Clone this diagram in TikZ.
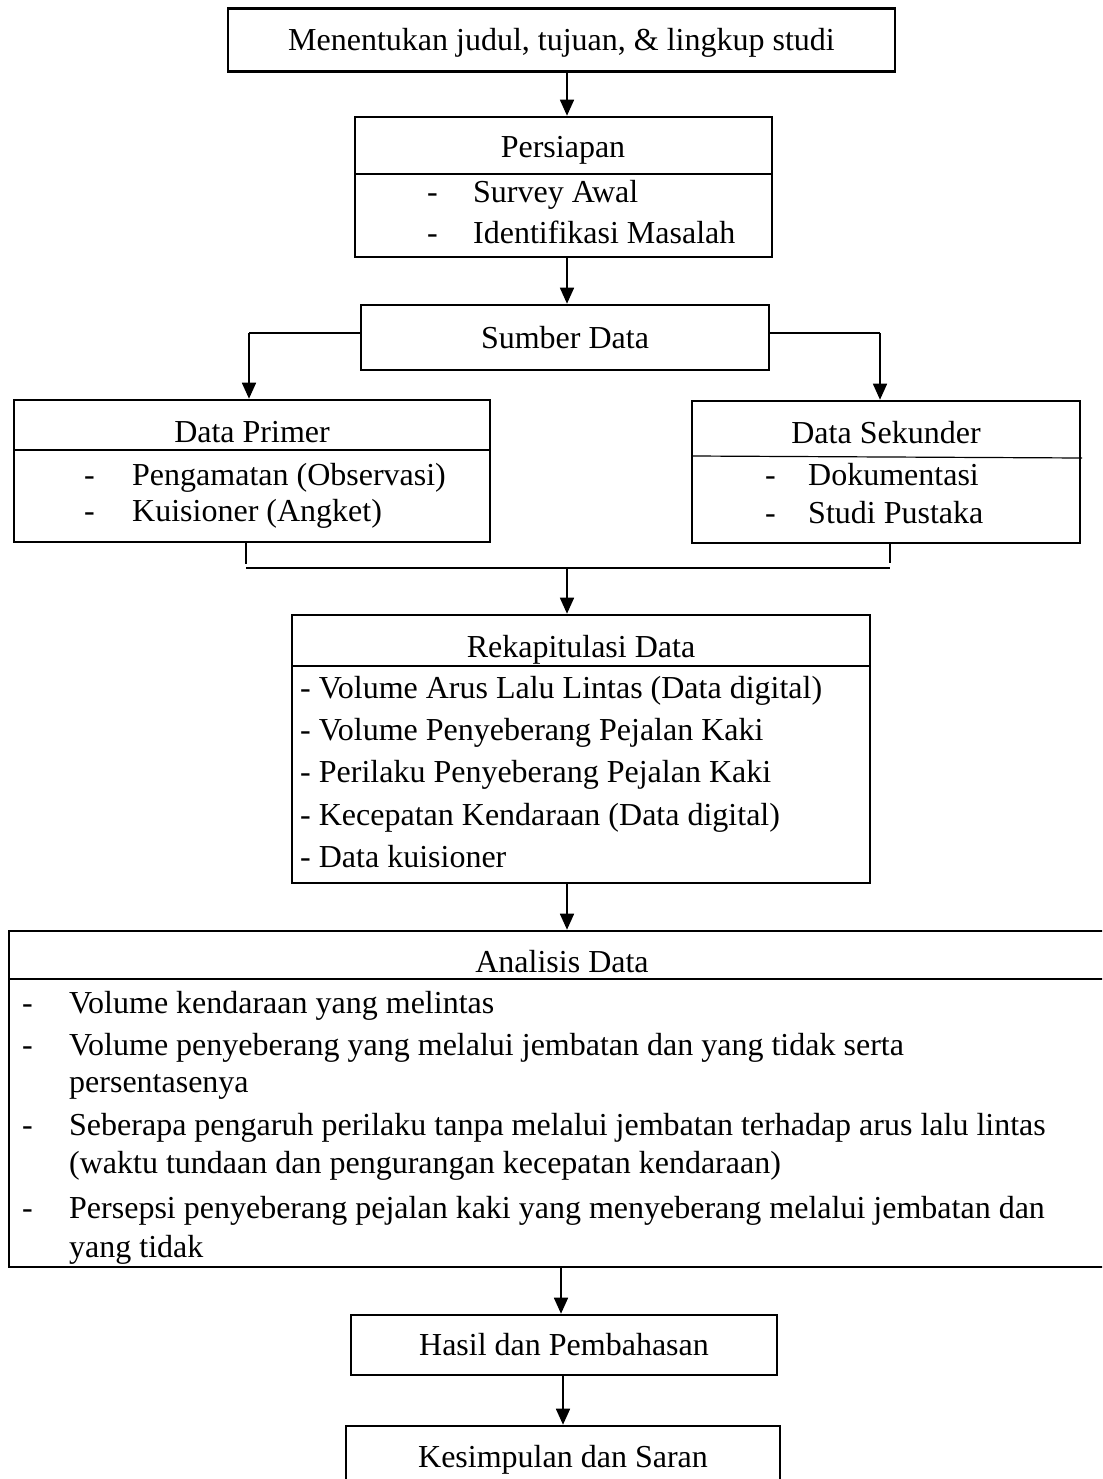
\documentclass[tikz,border=0pt]{standalone}
\usepackage{fontspec}
\setmainfont{Liberation Serif}
\usetikzlibrary{arrows.meta}

\begin{document}
\begin{tikzpicture}[x=1pt,y=-1pt,inner sep=0pt,
        kotak/.style={draw,rectangle,line width=2.6pt},
        tulisan/.style={font=\fontsize{32}{38}\selectfont,text height=21pt,text depth=0pt},
        butir/.style={tulisan,anchor=west},
        sekat/.style={line width=1.2pt},
        tebal/.style={line width=2.6pt},
        panah/.style={line width=1.7pt,-{Triangle[length=16pt,width=14pt]}}]
\useasboundingbox (0,0) rectangle (1102,1479);
\clip (0,0) rectangle (1102,1479);
\coordinate (poros) at (567,0);
\draw (561.5,40) node[kotak,tulisan,minimum width=667pt,minimum height=63pt](judul) {Menentukan judul, tujuan, \& lingkup studi};
\draw (563.5,187) node[kotak,minimum width=417pt,minimum height=140pt](persiapan) {};
\draw (563,147) node[tulisan](persiapanjudul) {Persiapan};
\draw[sekat] (355,174) -- (772,174);
\draw (427,192) node[butir](persiapanstrip1) {-};
\draw (473,192) node[butir](persiapanisi1) {Survey Awal};
\draw (427,233) node[butir](persiapanstrip2) {-};
\draw (473,233) node[butir](persiapanisi2) {Identifikasi Masalah};
\draw[panah] (judul.south -| poros) -- (persiapan.north -| poros);
\draw (565,337.5) node[kotak,tulisan,minimum width=408pt,minimum height=65pt](sumber) {Sumber Data};
\draw[panah] (persiapan.south -| poros) -- (sumber.north -| poros);
\draw (252,471) node[kotak,minimum width=476pt,minimum height=142pt](primer) {};
\draw (252,432) node[tulisan](primerjudul) {Data Primer};
\draw[sekat] (14,450) -- (490,450);
\draw (84,475) node[butir](primerstrip1) {-};
\draw (132,475) node[butir](primerisi1) {Pengamatan (Observasi)};
\draw (84,511) node[butir](primerstrip2) {-};
\draw (132,511) node[butir](primerisi2) {Kuisioner (Angket)};
\draw (886,472) node[kotak,minimum width=388pt,minimum height=142pt](sekunder) {};
\draw (886,433) node[tulisan](sekunderjudul) {Data Sekunder};
\draw[sekat] (692,456) -- (1082,458);
\draw (765,475) node[butir](sekunderstrip1) {-};
\draw (808,475) node[butir](sekunderisi1) {Dokumentasi};
\draw (765,513) node[butir](sekunderstrip2) {-};
\draw (808,513) node[butir](sekunderisi2) {Studi Pustaka};
\coordinate (belokkiri) at (249,333);
\coordinate (belokkanan) at (880,333);
\draw[tebal] (belokkiri -| sumber.west) -- (belokkiri);
\draw[panah] (belokkiri) -- (belokkiri |- primer.north);
\draw[tebal] (belokkanan -| sumber.east) -- (belokkanan);
\draw[panah] (belokkanan) -- (belokkanan |- sekunder.north);
\coordinate (gabungkiri) at (246,568);
\coordinate (gabungkanan) at (890,568);
\coordinate (gabung) at (567,568);
\draw[tebal] (gabungkiri |- primer.south) -- ([yshift=4pt]gabungkiri);
\draw[tebal] (gabungkanan |- sekunder.south) -- ([yshift=5pt]gabungkanan);
\draw[sekat] (gabungkiri) -- (gabungkanan);
\draw (581,749) node[kotak,minimum width=578pt,minimum height=268pt](rekap) {};
\draw[panah] (gabung) -- (gabung |- rekap.north);
\draw (581,647) node[tulisan](rekapjudul) {Rekapitulasi Data};
\draw[sekat] (292,666) -- (870,666);
\draw (300,688) node[butir](rekapisi1) {- Volume Arus Lalu Lintas (Data digital)};
\draw (300,730) node[butir](rekapisi2) {- Volume Penyeberang Pejalan Kaki};
\draw (300,772) node[butir](rekapisi3) {- Perilaku Penyeberang Pejalan Kaki};
\draw (300,815) node[butir](rekapisi4) {- Kecepatan Kendaraan (Data digital)};
\draw (300,857) node[butir](rekapisi5) {- Data kuisioner};
\draw (562,1099) node[kotak,minimum width=1106pt,minimum height=336pt](analisis) {};
\draw[panah] (rekap.south -| poros) -- (analisis.north -| poros);
\draw (562,962) node[tulisan](analisisjudul) {Analisis Data};
\draw[sekat] (9,979) -- (1115,979);
\draw (22,1003) node[butir](analisisstrip1) {-};
\draw (69,1003) node[butir](analisisisi1) {Volume kendaraan yang melintas};
\draw (22,1045) node[butir](analisisstrip2) {-};
\draw (69,1045) node[butir](analisisisi2) {Volume penyeberang yang melalui jembatan dan yang tidak serta};
\draw (69,1082) node[butir](analisisisi2b) {persentasenya};
\draw (22,1125) node[butir](analisisstrip3) {-};
\draw (69,1125) node[butir](analisisisi3) {Seberapa pengaruh perilaku tanpa melalui jembatan terhadap arus lalu lintas};
\draw (69,1163) node[butir](analisisisi3b) {(waktu tundaan dan pengurangan kecepatan kendaraan)};
\draw (22,1208) node[butir](analisisstrip4) {-};
\draw (69,1208) node[butir](analisisisi4) {Persepsi penyeberang pejalan kaki yang menyeberang melalui jembatan dan};
\draw (69,1247) node[butir](analisisisi4b) {yang tidak};
\draw (564,1345) node[kotak,tulisan,minimum width=426pt,minimum height=60pt](hasil) {Hasil dan Pembahasan};
\draw[panah] (analisis.south -| 561,0) -- (hasil.north -| 561,0);
\draw (563,1457) node[kotak,tulisan,minimum width=434pt,minimum height=62pt](kesimpulan) {Kesimpulan dan Saran};
\draw[panah] (hasil.south -| 563,0) -- (kesimpulan.north -| 563,0);
\end{tikzpicture}
\end{document}
